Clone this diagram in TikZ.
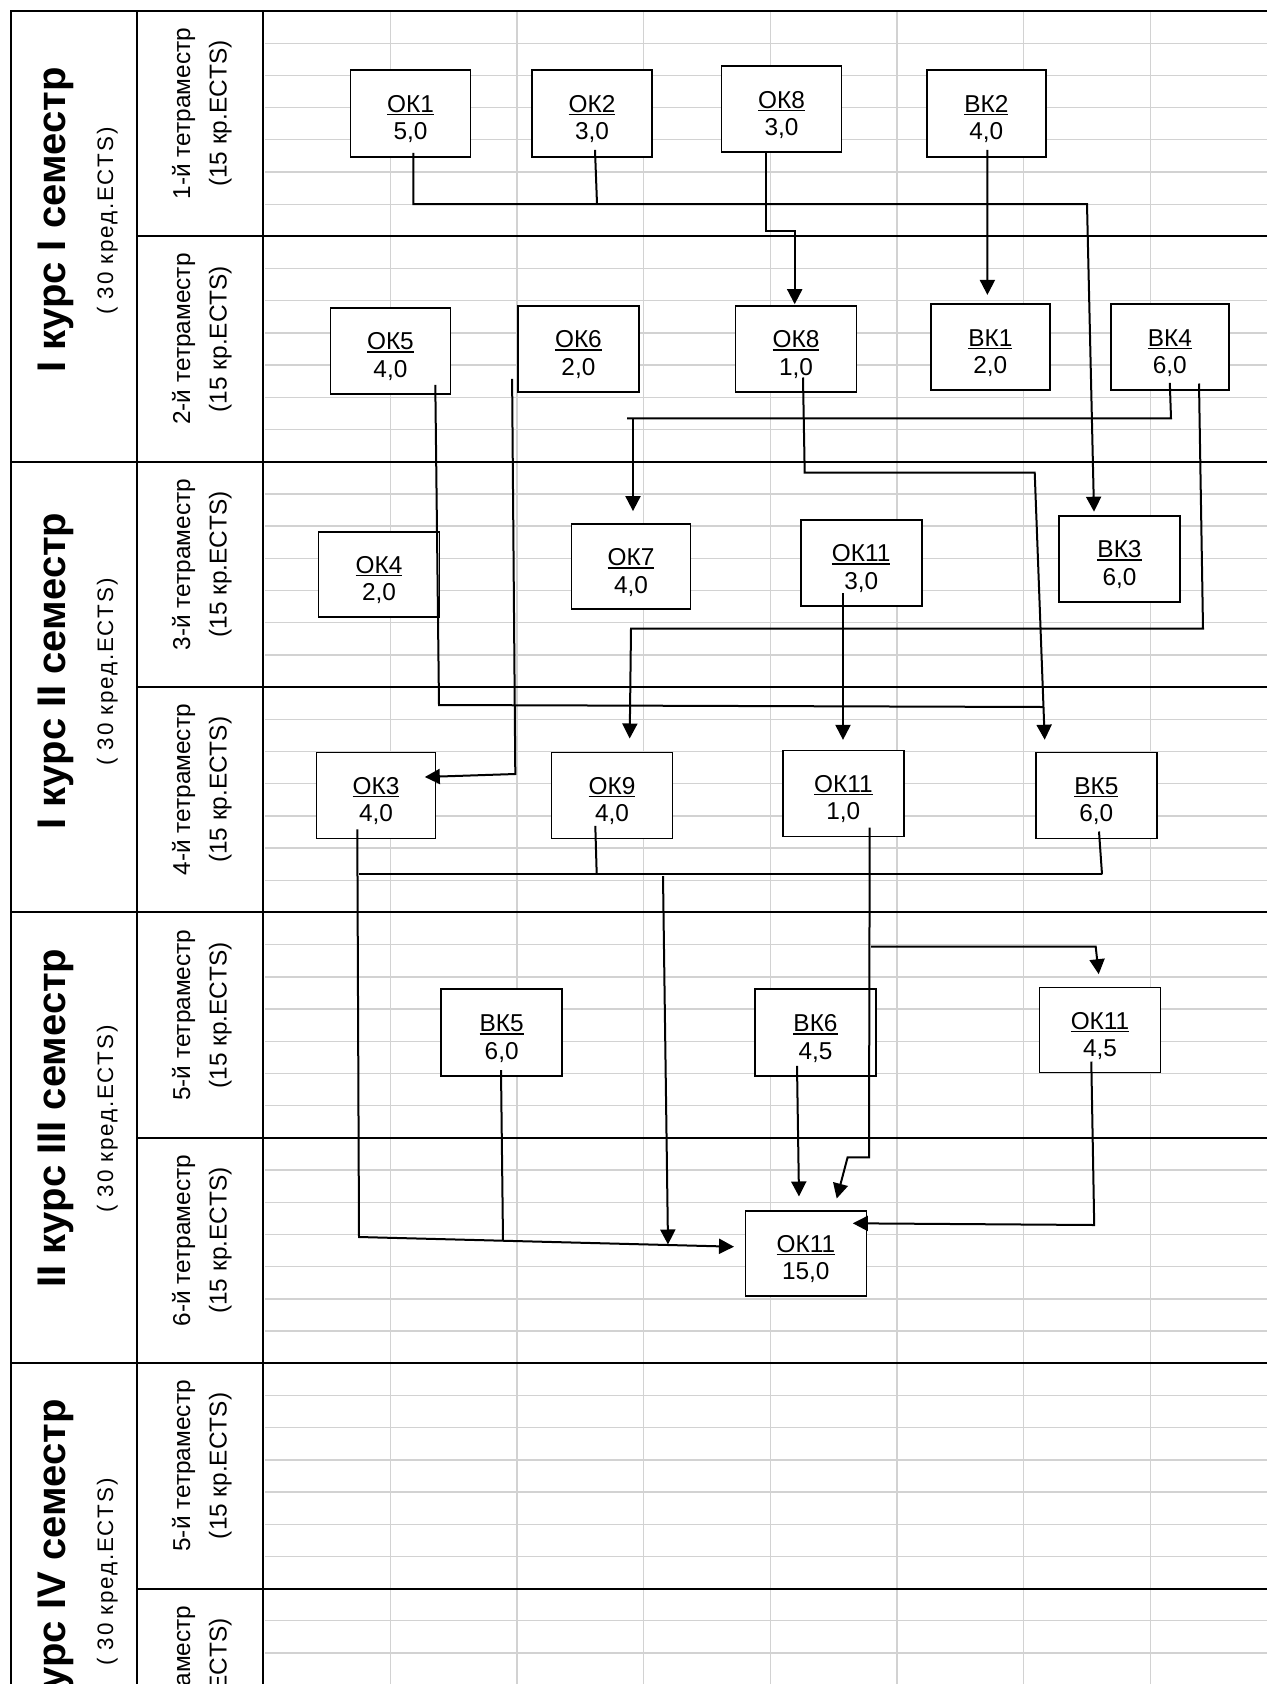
\documentclass[tikz,border=0pt]{standalone}
\usepackage{fontspec}
\setmainfont{Liberation Sans}
\newfontfamily\subfont[LetterSpace=8]{Liberation Sans}
\usetikzlibrary{arrows.meta}
\definecolor{gridgray}{RGB}{210,210,210}
\newcommand\ukline[1]{\setbox0\hbox{#1}\leavevmode\rlap{\rule[-2.2pt]{\wd0}{1.1pt}}\box0}
\newcommand\bt[2]{\ukline{#1}\rule{0pt}{21.4pt}\\#2}
\begin{document}
\begin{tikzpicture}[x=0.75pt,y=-0.75pt,
  frame/.style={line width=1.5pt, draw=black},
  gridl/.style={line width=1pt, draw=gridgray},
  bx/.style n args={2}{draw=black, line width=1.2pt, fill=white, rectangle, align=center, inner sep=0pt,
     minimum width=#1*0.75pt, minimum height=#2*0.75pt, font=\fontsize{18.3}{20.5}\selectfont},
  conn/.style={line width=1.5pt, line cap=butt},
  arr/.style={conn, -{Triangle[length=11.25pt,width=11.25pt]}},
  semt/.style={rotate=90, anchor=base, font=\fontsize{30}{36}\selectfont\bfseries},
  subt/.style={rotate=90, anchor=base, font=\subfont\fontsize{16.8}{20}\selectfont},
  tetr/.style={rotate=90, anchor=base, font=\fontsize{18.3}{22}\selectfont}]
\useasboundingbox (0,0) rectangle (1267,1684);
\clip (0,0) rectangle (1267,1684);
\fill[white] (0,0) rectangle (1267,1684);
% grid
\foreach \r in {1,...,51} \draw[gridl] (265,{11+32.196*\r}) -- (1267,{11+32.196*\r});
\foreach \k in {1,...,7} \draw[gridl] ({263.5+126.7*\k},11) -- ({263.5+126.7*\k},1684);
% frame
\draw[frame] (11,1684) -- (11,11) -- (1267,11);
\draw[frame] (137,11) -- (137,1684);
\draw[frame] (263,11) -- (263,1684);
\foreach \n in {1,3,5,7} \draw[frame] (137,{11+225.37*\n}) -- (1267,{11+225.37*\n});
\foreach \n in {2,4,6} \draw[frame] (11,{11+225.37*\n}) -- (1267,{11+225.37*\n});
% semester labels
\node[semt] (s1a) at (65,220) {I курс I семестр};
\node[subt] (s1b) at (113,221) {( 30 кред.ECTS)};
\node[semt] (s2a) at (65,671) {I курс II семестр};
\node[subt] (s2b) at (113,672) {( 30 кред.ECTS)};
\node[semt] (s3a) at (65,1118) {II курс III семестр};
\node[subt] (s3b) at (113,1119) {( 30 кред.ECTS)};
\node[semt] (s4a) at (65,1571) {II курс IV семестр};
\node[subt] (s4b) at (113,1572) {( 30 кред.ECTS)};
% tetramester labels
\foreach \n/\lab in {0/1-й тетраместр,1/2-й тетраместр,2/3-й тетраместр,3/4-й тетраместр,4/5-й тетраместр,5/6-й тетраместр,6/5-й тетраместр,7/6-й тетраместр}{
  \node[tetr] (t\n a) at (190,{123.7+225.37*\n-10}) {\lab};
  \node[tetr] (t\n b) at (226.7,{123.7+225.37*\n-10}) {(15 кр.ECTS)};
}
% boxes
\node[bx={120}{87}] (ok1) at (410.5,113.3) {\bt{ОК1}{5,0}};
\node[bx={120}{87}] (ok2) at (592,113.3) {\bt{ОК2}{3,0}};
\node[bx={120}{86}] (ok8a) at (781.5,109) {\bt{ОК8}{3,0}};
\node[bx={119}{87}] (vk2) at (986.3,113.3) {\bt{ВК2}{4,0}};
\node[bx={120}{86}] (ok5) at (390.4,350.7) {\bt{ОК5}{4,0}};
\node[bx={121}{86}] (ok6) at (578.4,348.7) {\bt{ОК6}{2,0}};
\node[bx={121}{86}] (ok8b) at (796,348.7) {\bt{ОК8}{1,0}};
\node[bx={119}{86}] (vk1) at (990.3,347) {\bt{ВК1}{2,0}};
\node[bx={118}{86}] (vk4) at (1169.8,347) {\bt{ВК4}{6,0}};
\node[bx={121}{85}] (ok4) at (379,574.2) {\bt{ОК4}{2,0}};
\node[bx={119}{85}] (ok7) at (631,566.7) {\bt{ОК7}{4,0}};
\node[bx={121}{86}] (ok11a) at (861.2,562.8) {\bt{ОК11}{3,0}};
\node[bx={121}{86}] (vk3) at (1119.5,558.8) {\bt{ВК3}{6,0}};
\node[bx={119}{86}] (ok3) at (376,795.5) {\bt{ОК3}{4,0}};
\node[bx={121}{86}] (ok9) at (612,795.5) {\bt{ОК9}{4,0}};
\node[bx={121}{86}] (ok11b) at (843.3,793.5) {\bt{ОК11}{1,0}};
\node[bx={121}{86}] (vk5a) at (1096.3,795.5) {\bt{ВК5}{6,0}};
\node[bx={121}{87}] (vk5b) at (501.7,1032.7) {\bt{ВК5}{6,0}};
\node[bx={121}{87}] (vk6) at (815.5,1032.7) {\bt{ВК6}{4,5}};
\node[bx={121}{85}] (ok11c) at (1100,1030) {\bt{ОК11}{4,5}};
\node[bx={121}{85}] (ok11d) at (805.8,1253.5) {\bt{ОК11}{15,0}};
% junction coordinates
\coordinate (b1l) at (413.4,204);
\coordinate (b1m) at (597,204);
\coordinate (b1r) at (1087,204);
\coordinate (c5) at (439,705);
\coordinate (j5) at (1043,707);
\coordinate (c8a) at (804.7,472.5);
\coordinate (c8b) at (1034.7,472.5);
\coordinate (c6) at (515.3,774);
\coordinate (c4a) at (1171,418.3);
\coordinate (c4b) at (627,418.3);
\coordinate (c4c) at (633,418.3);
\coordinate (c4d) at (1203,628.7);
\coordinate (c4e) at (631,628.7);
\coordinate (b4l) at (359,874.3);
\coordinate (b4m) at (596.7,874.3);
\coordinate (b4r) at (1102,874.3);
\coordinate (b4d) at (663,876);
\coordinate (b5l) at (359,1237);
\coordinate (b5a) at (503,1240.7);
\coordinate (b5b) at (668,1244.5);
\coordinate (c11a) at (869,1157.3);
\coordinate (c11b) at (847.6,1157.3);
\coordinate (c11c) at (871,946.7);
\coordinate (c11d) at (1095.7,946.7);
\coordinate (c11e) at (1094.2,1225);
% connectors
\draw[arr] ([shift={(2.9,-4.8)}]ok1.south) -- (b1l) -- (b1r) -- ([shift={(-25.5,-3.3)}]vk3.north);
\draw[conn] ([shift={(3,-7.8)}]ok2.south) -- (b1m);
\draw[arr] ([shift={(-15.9,0)}]ok8a.south) -- ++(0,78) -| ([shift={(-1.3,-0.7)}]ok8b.north);
\draw[arr] ([shift={(1.1,-7.8)}]vk2.south) -- ([shift={(-2.9,-8.3)}]vk1.north);
\draw[conn] ([shift={(44.9,-9.7)}]ok5.south) -- (c5) -- (j5);
\draw[arr] ([shift={(7,-15)}]ok8b.south) -- (c8a) -- (c8b) -- ([shift={(-51.6,-12)}]vk5a.north);
\draw[arr] ([shift={(-5,-13.7)}]ok6.south west) -- (c6) -- ([shift={(-11.5,-18.5)}]ok3.east);
\draw[conn] ([shift={(0,-8)}]vk4.south) -- (c4a) -- (c4b);
\draw[arr] (c4c) -- ([shift={(2,-12.3)}]ok7.north);
\draw[arr] ([shift={(29.2,-7.3)}]vk4.south) -- (c4d) -- (c4e) -- ([shift={(17.7,-13.2)}]ok9.north);
\draw[arr] ([shift={(-18.2,-13.5)}]ok11a.south) -- ([shift={(-0.3,-9.8)}]ok11b.north);
\draw[arr] ([shift={(-18.7,-10)}]ok3.south) -- (b5l) -- ([shift={(-10.5,-6.8)}]ok11d.west);
\draw[conn] (b4l) -- (b4r);
\draw[conn] ([shift={(-16.7,-13.5)}]ok9.south) -- (b4m);
\draw[conn] ([shift={(2.7,-7.8)}]vk5a.south) -- (b4r);
\draw[arr] (b4d) -- (b5b);
\draw[conn] ([shift={(-0.7,-6.9)}]vk5b.south) -- (b5a);
\draw[arr] ([shift={(26.4,-9.8)}]ok11b.south) -- (c11a) -- (c11b) -- ([shift={(30.9,-11.7)}]ok11d.north);
\draw[arr] (c11c) -- (c11d) -- ([shift={(-1.3,-12.5)}]ok11c.north);
\draw[arr] ([shift={(-18.5,-11.2)}]vk6.south) -- ([shift={(-6.8,-13.7)}]ok11d.north);
\draw[arr] ([shift={(-8.7,-11.8)}]ok11c.south) -- (c11e) -- ([shift={(-14.3,-30.2)}]ok11d.east);
\end{tikzpicture}
\end{document}
